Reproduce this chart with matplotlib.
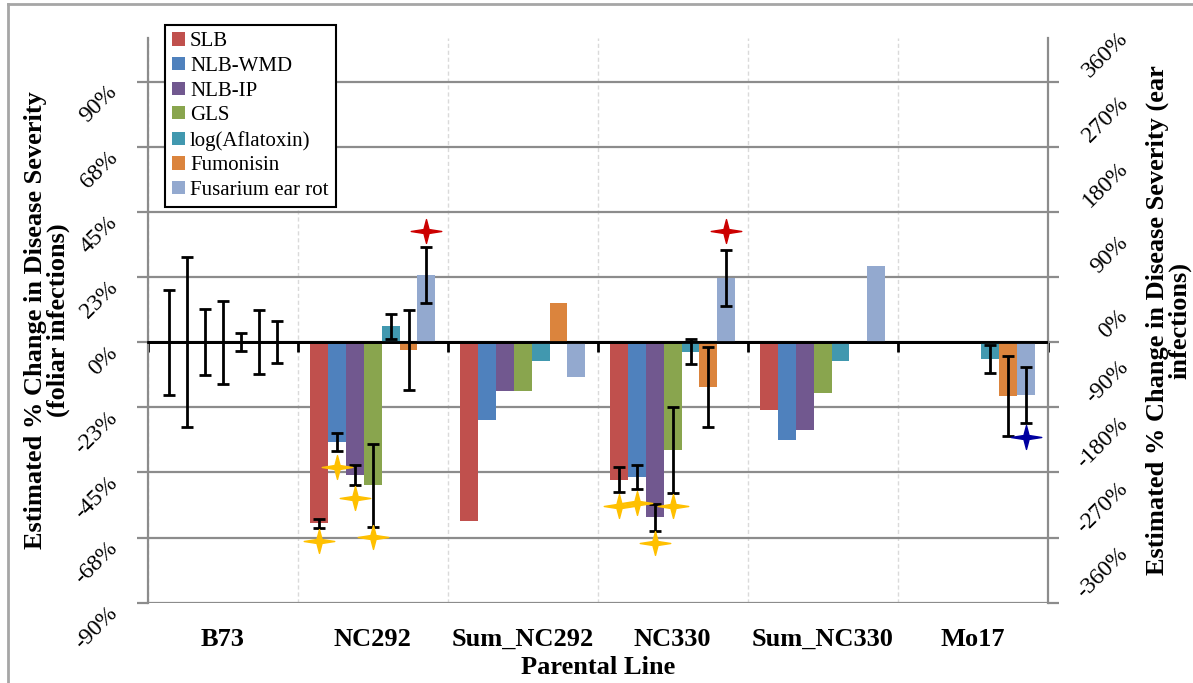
import numpy as np
import matplotlib
matplotlib.use("Agg")
import matplotlib.pyplot as plt
from matplotlib.path import Path
from matplotlib.lines import Line2D

plt.rcParams['font.family'] = ['Liberation Serif', 'DejaVu Serif']

nan = np.nan
groups = ["B73", "NC292", "Sum_NC292", "NC330", "Sum_NC330", "Mo17"]

# foliar traits (left axis, % change)
slb = [0, -62.6, -61.6, -47.5, -23.3, nan]
slb_err = [18.2, 1.5, nan, 4.3, nan, nan]
nlb_wmd = [0, -34.5, -27.0, -46.6, -33.9, nan]
nlb_wmd_err = [29.4, 3.1, nan, 4.2, nan, nan]
nlb_ip = [0, -46.0, -16.8, -60.5, -30.5, nan]
nlb_ip_err = [11.5, 3.5, nan, 4.6, nan, nan]
gls = [0, -49.5, -16.8, -37.2, -17.5, nan]
gls_err = [14.4, 14.4, nan, 14.8, nan, nan]

# ear traits (right axis, % change)
aflatoxin = [0, 22.0, -25.9, -13.4, -25.9, -23.5]
aflatoxin_err = [12.2, 16.9, nan, 17.3, nan, 19.4]
fumonisin = [0, -11.0, 53.6, -61.9, nan, -74.3]
fumonisin_err = [44.6, 55.0, nan, 55.1, nan, 55.0]
fer = [0, 92.8, -48.0, 89.0, 105.2, -73.0]
fer_err = [28.8, 38.5, nan, 38.3, nan, 38.3]

series_names = ["SLB", "NLB-WMD", "NLB-IP", "GLS",
                "log(Aflatoxin)", "Fumonisin", "Fusarium ear rot"]
series_colors = ["#C0504D", "#4F81BD", "#71588F", "#89A54E",
                 "#4198AF", "#DB843D", "#93A9CF"]

left_ticks = [-90, -67.5, -45, -22.5, 0, 22.5, 45, 67.5, 90]
left_tick_labels = ["-90%", "-68%", "-45%", "-23%", "0%", "23%", "45%", "68%", "90%"]
right_ticks = [-360, -270, -180, -90, 0, 90, 180, 270, 360]
right_tick_labels = ["-360%", "-270%", "-180%", "-90%", "0%", "90%", "180%", "270%", "360%"]

# significance stars: group index, series index, y position
gold_star_group = [1, 1, 1, 1, 3, 3, 3, 3]
gold_star_series = [0, 1, 2, 3, 0, 1, 2, 3]
gold_star_y = [-68.6, -43.1, -53.8, -67.2, -56.7, -55.5, -69.3, -56.7]   # left axis
red_star_group = [1, 3]
red_star_series = [6, 6]
red_star_y = [153, 153]            # right axis
blue_star_group = [5]
blue_star_series = [6]
blue_star_y = [-131]               # right axis

# ---------------------------------------------------------------
W, H = 1193, 683
fig = plt.figure(figsize=(W / 100, H / 100), dpi=100)
ax_l, ax_r, ax_t, ax_b = 148, 1047.5, 38.3, 602.7
ax = fig.add_axes([ax_l / W, 1 - ax_b / H, (ax_r - ax_l) / W, (ax_b - ax_t) / H])
ax2 = ax.twinx()

n_series = 7
bw = 1.0 / 8.4
centers = np.arange(len(groups)) + 0.5

def xpos(i):
    return centers + (i - (n_series - 1) / 2) * bw

foliar = [(slb, slb_err), (nlb_wmd, nlb_wmd_err), (nlb_ip, nlb_ip_err), (gls, gls_err)]
ear = [(aflatoxin, aflatoxin_err), (fumonisin, fumonisin_err), (fer, fer_err)]

handles = []
for i, (v, e) in enumerate(foliar):
    b = ax.bar(xpos(i), v, width=bw, color=series_colors[i], label=series_names[i], zorder=2)
    handles.append(b)
    ax.errorbar(xpos(i), v, yerr=e, fmt='none', ecolor='black', elinewidth=2,
                capsize=4.3, capthick=2, zorder=3)
for j, (v, e) in enumerate(ear):
    i = j + 4
    b = ax2.bar(xpos(i), v, width=bw, color=series_colors[i], label=series_names[i], zorder=2)
    handles.append(b)
    ax2.errorbar(xpos(i), v, yerr=e, fmt='none', ecolor='black', elinewidth=2,
                 capsize=4.3, capthick=2, zorder=3)

# four-pointed star marker
sv = [(1, 0), (0.17, 0.13), (0, 0.78), (-0.17, 0.13), (-1, 0),
      (-0.17, -0.13), (0, -0.78), (0.17, -0.13), (1, 0)]
sc = [Path.MOVETO] + [Path.LINETO] * 7 + [Path.CLOSEPOLY]
star = Path(sv, sc)

def star_x(g, s):
    return np.array(g) + 0.5 + (np.array(s) - (n_series - 1) / 2) * bw

ax.plot(star_x(gold_star_group, gold_star_series), gold_star_y, ls='none',
        marker=star, ms=22, color='#FFC000', mec='#FFC000', zorder=5, clip_on=False)
ax2.plot(star_x(red_star_group, red_star_series), red_star_y, ls='none',
         marker=star, ms=22, color='#CC0000', mec='#CC0000', zorder=5, clip_on=False)
ax2.plot(star_x(blue_star_group, blue_star_series), blue_star_y, ls='none',
         marker=star, ms=22, color='#0000A0', mec='#0000A0', zorder=5, clip_on=False)

# axes limits / ticks
gray = '#8C8C8C'
ax.set_xlim(0, len(groups))
ax.set_ylim(-90, 105)
ax2.set_ylim(-360, 420)

ax.set_yticks(left_ticks, labels=left_tick_labels)
ax.tick_params(axis='y', direction='out', length=8, width=1.6, color=gray,
               labelsize=17, pad=11)
plt.setp(ax.get_yticklabels(), rotation=45, ha='right', va='top', rotation_mode='default')

ax2.set_yticks(right_ticks, labels=right_tick_labels)
ax2.tick_params(axis='y', direction='out', length=8, width=1.6, color=gray,
                labelsize=17, pad=53)
plt.setp(ax2.get_yticklabels(), rotation=45, ha='right', va='bottom', rotation_mode='default')

ax.set_xticks(np.arange(len(groups) + 1))
ax.tick_params(axis='x', direction='out', length=7, width=2, color='black', labelbottom=False)
ax.spines['bottom'].set_position(('data', 0))
ax.spines['bottom'].set_color('black')
ax.spines['bottom'].set_linewidth(2)
ax.spines['bottom'].set_zorder(4)
ax.spines['top'].set_visible(False)
ax.spines['right'].set_visible(False)
ax.spines['left'].set_color(gray)
ax.spines['left'].set_linewidth(1.6)
for s in ['top', 'left', 'bottom']:
    ax2.spines[s].set_visible(False)
ax2.spines['right'].set_color(gray)
ax2.spines['right'].set_linewidth(1.6)
ax2.axhline(0, color='black', lw=2, zorder=4)

ax.set_axisbelow(True)
ax.grid(axis='y', color=gray, lw=1.6)
ax.grid(axis='x', color='#DADADA', lw=1, ls=(0, (3, 2)))

secax = ax.secondary_xaxis('bottom')
secax.set_ticks(centers, labels=groups)
secax.tick_params(length=0, pad=18, labelsize=19)
for t in secax.get_xticklabels():
    t.set_fontweight('bold')
secax.spines['bottom'].set_visible(False)
secax.set_xlabel("Parental Line", fontsize=19, fontweight='bold', labelpad=4)

ax.set_ylabel("Estimated % Change in Disease Severity\n(foliar infections)",
              fontsize=19, fontweight='bold', linespacing=1.0)
ax.yaxis.set_label_coords((70 - ax_l) / (ax_r - ax_l), 0.5)
ax2.set_ylabel("Estimated % Change in Disease Severity (ear\ninfections)",
               fontsize=19, fontweight='bold', linespacing=0.92)
ax2.yaxis.set_label_coords((1146 - ax_l) / (ax_r - ax_l), 0.5)

leg = ax2.legend(handles, series_names, loc='upper left',
                 bbox_to_anchor=(165 / W, 1 - 25 / H), bbox_transform=fig.transFigure,
                 fontsize=15, frameon=True, fancybox=False, framealpha=1,
                 edgecolor='black', borderpad=0.35, labelspacing=0.27,
                 handlelength=0.6, handleheight=0.6, handletextpad=0.25,
                 borderaxespad=0)
leg.get_frame().set_linewidth(1.5)
leg.set_zorder(10)

# outer chart frame
fig.add_artist(Line2D([8 / W, 8 / W], [0, 1 - 4 / H], transform=fig.transFigure,
                      color='#A6A6A6', lw=2))
fig.add_artist(Line2D([8 / W, 1], [1 - 4 / H, 1 - 4 / H], transform=fig.transFigure,
                      color='#A6A6A6', lw=2))

fig.savefig("out.png", dpi=100)
